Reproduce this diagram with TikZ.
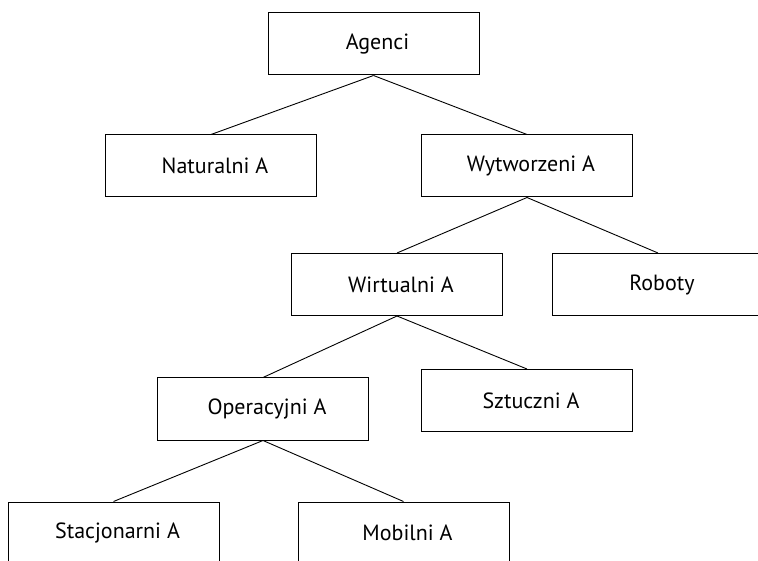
\documentclass[tikz,border=0pt]{standalone}
\usepackage{fontspec}
\setmainfont{PT Sans}
\begin{document}
\begin{tikzpicture}[x=1pt, y=-1pt,
  agent/.style={draw, line width=1pt, minimum width=211pt, minimum height=62pt,
    inner sep=0pt, font=\fontsize{22}{26}\selectfont,
    execute at begin node={\hspace*{8pt}}},
  link/.style={line width=0.9pt}]
  \path[use as bounding box] (0,0) rectangle (758,561);
  \clip (0,0) rectangle (758,561);

  \node[agent] (agenci) at (373.5,44)    {Agenci};
  \node[agent] (nat)    at (211,166)     {Naturalni A};
  \node[agent] (wyt)    at (527,166)     {Wytworzeni A};
  \node[agent] (wir)    at (397,284.5)   {Wirtualni A};
  \node[agent] (rob)    at (658,284.5)   {Roboty};
  \node[agent] (ope)    at (263,409)     {Operacyjni A};
  \node[agent] (szt)    at (527,400.5)   {Sztuczni A};
  \node[agent] (sta)    at (113.5,533)   {Stacjonarni A};
  \node[agent] (mob)    at (403.5,533)   {Mobilni A};

  \draw[link] (agenci.south) -- (nat.north);
  \draw[link] (agenci.south) -- (wyt.north);
  \draw[link] (wyt.south) -- (wir.north);
  \draw[link] (wyt.south) -- (rob.north);
  \draw[link] (wir.south) -- (ope.north);
  \draw[link] (wir.south) -- (szt.north);
  \draw[link] (ope.south) -- (sta.north);
  \draw[link] (ope.south) -- (mob.north);
\end{tikzpicture}
\end{document}
